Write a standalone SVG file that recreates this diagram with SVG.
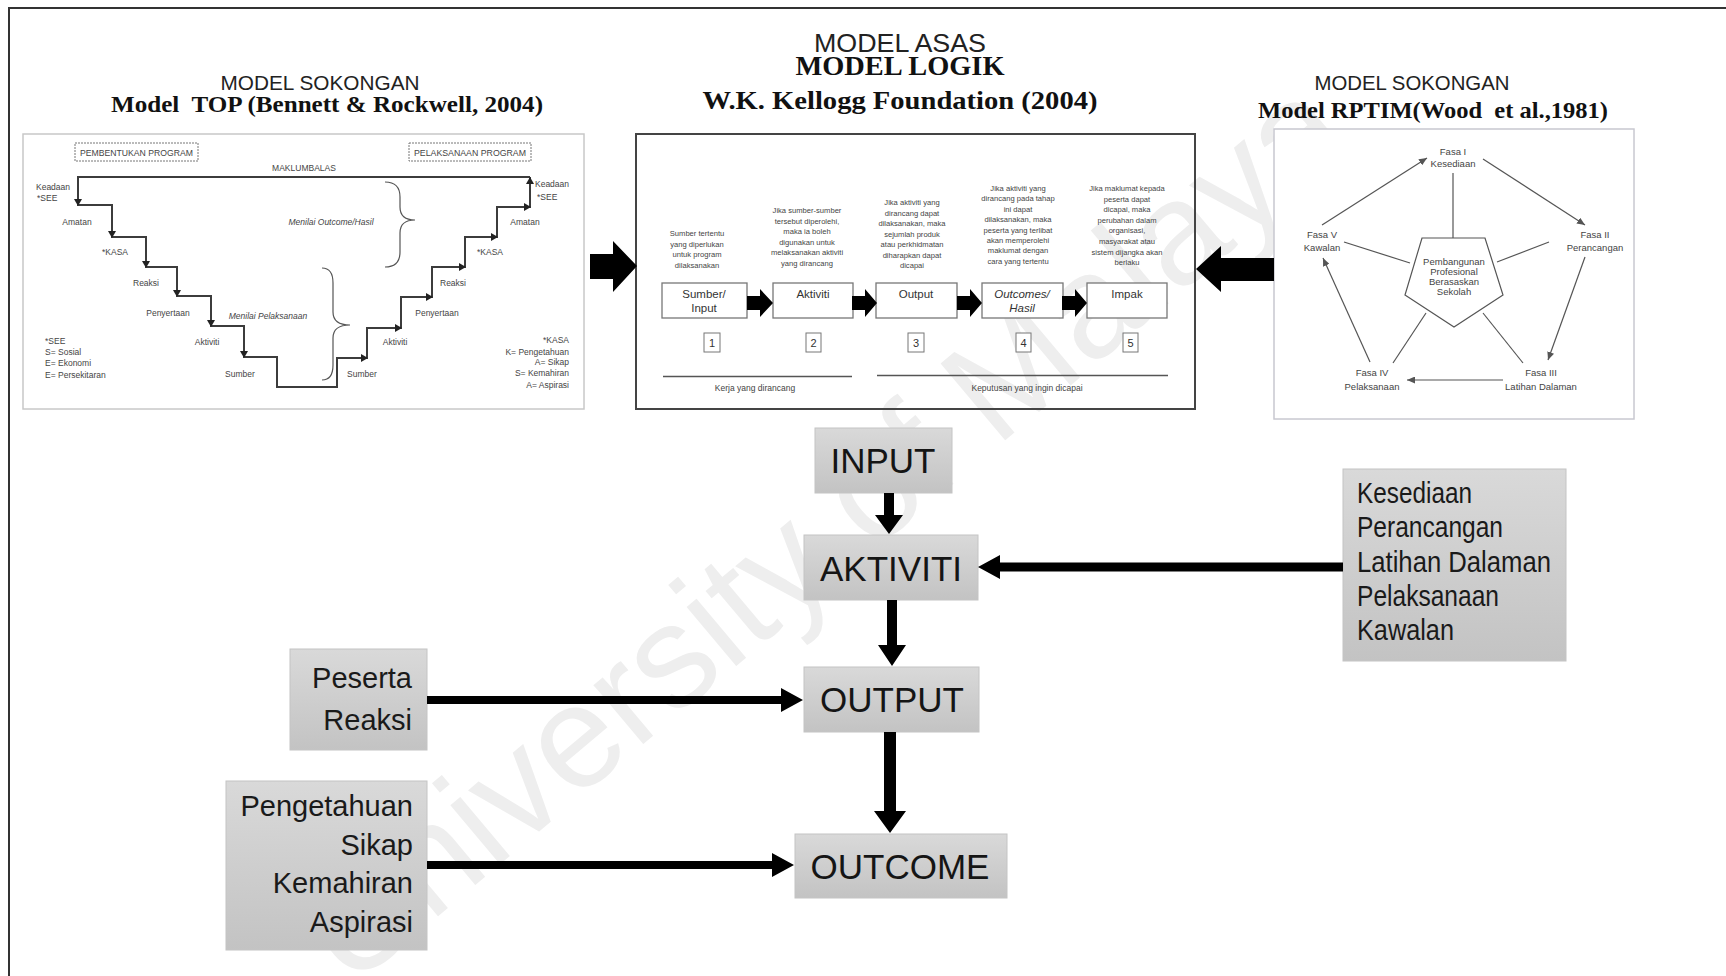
<svg xmlns="http://www.w3.org/2000/svg" width="1726" height="976" viewBox="0 0 1726 976">
<defs>
<style>
.sans{font-family:"Liberation Sans",Arial,sans-serif;}
.serifb{font-family:"Liberation Serif","Times New Roman",serif;font-weight:bold;fill:#111;}
.ttl{font-family:"Liberation Sans",Arial,sans-serif;fill:#222;}
.sm{font-family:"Liberation Sans",Arial,sans-serif;font-size:8.5px;fill:#444;}
.desc{font-family:"Liberation Sans",Arial,sans-serif;font-size:7.6px;fill:#444;text-anchor:middle;}
.fs{font-family:"Liberation Sans",Arial,sans-serif;font-size:9.5px;fill:#444;text-anchor:middle;}
.big{font-family:"Liberation Sans",Arial,sans-serif;font-size:35px;fill:#151515;text-anchor:middle;}
.side{font-family:"Liberation Sans",Arial,sans-serif;font-size:29px;fill:#1a1a1a;}
.gbox{fill:url(#gg);stroke:#c4c4c4;stroke-width:1;}
.stair{fill:none;stroke:#3c3c3c;stroke-width:2;}
.thin{fill:none;stroke:#555;stroke-width:1.2;}
.kbox{fill:#fff;stroke:#777;stroke-width:1.3;}
.blk{fill:#000;}
</style>
<linearGradient id="gg" x1="0" y1="0" x2="0" y2="1">
<stop offset="0" stop-color="#d9d9d9"/>
<stop offset="1" stop-color="#c3c3c3"/>
</linearGradient>
<marker id="sa" markerUnits="userSpaceOnUse" markerWidth="9" markerHeight="7" refX="8" refY="3.5" orient="auto">
<path d="M0,0 L8,3.5 L0,7 z" fill="#555"/>
</marker>
</defs>
<rect x="0" y="0" width="1726" height="976" fill="#fff"/>

<g id="watermark">
<text x="853" y="568" transform="rotate(-40 853 568)" class="sans" font-size="146" fill="#eeeeee" text-anchor="middle">University of Malaya</text>
</g>

<g id="frame">
<path d="M9,976 V8 H1726" fill="none" stroke="#333" stroke-width="2"/>
</g>

<g id="titles">
<text x="320" y="90" class="ttl" font-size="20" text-anchor="middle" textLength="199" lengthAdjust="spacingAndGlyphs">MODEL SOKONGAN</text>
<text x="327" y="112" class="serifb" font-size="24" text-anchor="middle" xml:space="preserve" textLength="432" lengthAdjust="spacingAndGlyphs">Model  TOP (Bennett &amp; Rockwell, 2004)</text>
<text x="900" y="52" class="ttl" font-size="26" text-anchor="middle" textLength="172" lengthAdjust="spacingAndGlyphs">MODEL ASAS</text>
<text x="900" y="75" class="serifb" font-size="27" text-anchor="middle" textLength="209" lengthAdjust="spacingAndGlyphs">MODEL LOGIK</text>
<text x="900" y="109" class="serifb" font-size="25" text-anchor="middle" textLength="395" lengthAdjust="spacingAndGlyphs">W.K. Kellogg Foundation (2004)</text>
<text x="1412" y="90" class="ttl" font-size="20" text-anchor="middle" textLength="195" lengthAdjust="spacingAndGlyphs">MODEL SOKONGAN</text>
<text x="1433" y="118" class="serifb" font-size="24" text-anchor="middle" xml:space="preserve" textLength="350" lengthAdjust="spacingAndGlyphs">Model RPTIM(Wood  et al.,1981)</text>
</g>

<g id="node-top-model">
<rect x="23" y="134" width="561" height="275" fill="#fff" stroke="#c8c8c8" stroke-width="1.5"/>
<rect x="75" y="143" width="123" height="18" fill="none" stroke="#777" stroke-width="1" stroke-dasharray="2,1"/>
<text x="136.5" y="155.5" class="sm" font-size="8" text-anchor="middle" textLength="113" lengthAdjust="spacingAndGlyphs">PEMBENTUKAN PROGRAM</text>
<rect x="409" y="143" width="122" height="18" fill="none" stroke="#777" stroke-width="1" stroke-dasharray="2,1"/>
<text x="470" y="155.5" class="sm" font-size="8" text-anchor="middle" textLength="112" lengthAdjust="spacingAndGlyphs">PELAKSANAAN PROGRAM</text>
<text x="304" y="171" class="sm" font-size="8" text-anchor="middle">MAKLUMBALAS</text>
<path class="stair" d="M530,177 H78 V205 H112 V237 H146 V267 H177 V296 H211 V326 H244 V357 H277 V387 H337 V358 H367 V328 H401 V297 H432 V267 H465 V237 H497 V207 H530 V177"/>
<g fill="#222">
<path d="M74,199 L82,199 L78,206 z"/>
<path d="M108,231 L116,231 L112,238 z"/>
<path d="M142,261 L150,261 L146,268 z"/>
<path d="M173,290 L181,290 L177,297 z"/>
<path d="M207,320 L215,320 L211,327 z"/>
<path d="M240,351 L248,351 L244,358 z"/>
<path d="M361,354 L361,362 L368,358 z"/>
<path d="M395,324 L395,332 L402,328 z"/>
<path d="M426,293 L426,301 L433,297 z"/>
<path d="M459,263 L459,271 L466,267 z"/>
<path d="M491,233 L491,241 L498,237 z"/>
<path d="M524,203 L524,211 L531,207 z"/>
<path d="M526,184 L534,184 L530,177 z"/>
</g>
<path class="thin" stroke="#444" stroke-width="1.5" d="M385,182 Q400,182 400,197 V207 Q400,220 415,220 Q400,220 400,233 V252 Q400,267 385,267"/>
<path class="thin" stroke="#444" stroke-width="1.5" d="M322,268 Q333,268 333,283 V312 Q333,325 350,325 Q333,325 333,338 V365 Q333,380 322,380"/>
<text x="36" y="190" class="sm">Keadaan</text>
<text x="37" y="201" class="sm">*SEE</text>
<text x="77" y="225" class="sm" text-anchor="middle">Amatan</text>
<text x="115" y="255" class="sm" text-anchor="middle">*KASA</text>
<text x="146" y="286" class="sm" text-anchor="middle">Reaksi</text>
<text x="168" y="316" class="sm" text-anchor="middle">Penyertaan</text>
<text x="207" y="345" class="sm" text-anchor="middle">Aktiviti</text>
<text x="240" y="377" class="sm" text-anchor="middle">Sumber</text>
<text x="268" y="319" class="sm" text-anchor="middle" font-style="italic">Menilai Pelaksanaan</text>
<text x="331" y="225" class="sm" text-anchor="middle" font-style="italic">Menilai Outcome/Hasil</text>
<text x="535" y="187" class="sm">Keadaan</text>
<text x="537" y="200" class="sm">*SEE</text>
<text x="525" y="225" class="sm" text-anchor="middle">Amatan</text>
<text x="490" y="255" class="sm" text-anchor="middle">*KASA</text>
<text x="453" y="286" class="sm" text-anchor="middle">Reaksi</text>
<text x="437" y="316" class="sm" text-anchor="middle">Penyertaan</text>
<text x="395" y="345" class="sm" text-anchor="middle">Aktiviti</text>
<text x="362" y="377" class="sm" text-anchor="middle">Sumber</text>
<text class="sm" font-size="7.5"><tspan x="45" y="344">*SEE</tspan><tspan x="45" y="355">S= Sosial</tspan><tspan x="45" y="366">E= Ekonomi</tspan><tspan x="45" y="378">E= Persekitaran</tspan></text>
<text class="sm" font-size="7.5" text-anchor="end"><tspan x="569" y="343">*KASA</tspan><tspan x="569" y="355">K= Pengetahuan</tspan><tspan x="569" y="365">A= Sikap</tspan><tspan x="569" y="376">S= Kemahiran</tspan><tspan x="569" y="388">A= Aspirasi</tspan></text>
</g>

<g id="node-logic-model">
<rect x="636" y="134" width="559" height="275" fill="none" stroke="#444" stroke-width="2"/>
<text class="desc"><tspan x="697" y="236">Sumber tertentu</tspan><tspan x="697" y="246.5">yang diperlukan</tspan><tspan x="697" y="257">untuk program</tspan><tspan x="697" y="267.5">dilaksanakan</tspan></text>
<text class="desc"><tspan x="807" y="213">Jika sumber-sumber</tspan><tspan x="807" y="223.6">tersebut diperolehi,</tspan><tspan x="807" y="234.2">maka ia boleh</tspan><tspan x="807" y="244.8">digunakan untuk</tspan><tspan x="807" y="255.4">melaksanakan aktiviti</tspan><tspan x="807" y="266">yang dirancang</tspan></text>
<text class="desc"><tspan x="912" y="205">Jika aktiviti yang</tspan><tspan x="912" y="215.5">dirancang dapat</tspan><tspan x="912" y="226">dilaksanakan, maka</tspan><tspan x="912" y="236.5">sejumlah produk</tspan><tspan x="912" y="247">atau perkhidmatan</tspan><tspan x="912" y="257.5">diharapkan dapat</tspan><tspan x="912" y="268">dicapai</tspan></text>
<text class="desc"><tspan x="1018" y="191">Jika aktiviti yang</tspan><tspan x="1018" y="201.4">dirancang pada tahap</tspan><tspan x="1018" y="211.8">ini dapat</tspan><tspan x="1018" y="222.2">dilaksanakan, maka</tspan><tspan x="1018" y="232.6">peserta yang terlibat</tspan><tspan x="1018" y="243">akan memperolehi</tspan><tspan x="1018" y="253.4">maklumat dengan</tspan><tspan x="1018" y="263.8">cara yang tertentu</tspan></text>
<text class="desc"><tspan x="1127" y="191">Jika maklumat kepada</tspan><tspan x="1127" y="201.6">peserta dapat</tspan><tspan x="1127" y="212.2">dicapai, maka</tspan><tspan x="1127" y="222.8">perubahan dalam</tspan><tspan x="1127" y="233.4">organisasi,</tspan><tspan x="1127" y="244">masyarakat atau</tspan><tspan x="1127" y="254.6">sistem dijangka akan</tspan><tspan x="1127" y="265.2">berlaku</tspan></text>
<rect class="kbox" x="662" y="283" width="85" height="35"/>
<text class="sans" font-size="11.5" fill="#333" text-anchor="middle"><tspan x="704" y="298">Sumber/</tspan><tspan x="704" y="312">Input</tspan></text>
<rect class="kbox" x="773" y="283" width="80" height="35"/>
<text x="813" y="298" class="sans" font-size="11.5" fill="#333" text-anchor="middle">Aktiviti</text>
<rect class="kbox" x="876" y="283" width="81" height="35"/>
<text x="916" y="298" class="sans" font-size="11.5" fill="#333" text-anchor="middle">Output</text>
<rect class="kbox" x="982" y="283" width="81" height="35"/>
<text class="sans" font-size="11.5" fill="#333" text-anchor="middle" font-style="italic"><tspan x="1022" y="298">Outcomes/</tspan><tspan x="1022" y="312">Hasil</tspan></text>
<rect class="kbox" x="1087" y="283" width="80" height="35"/>
<text x="1127" y="298" class="sans" font-size="11.5" fill="#333" text-anchor="middle">Impak</text>
<g class="blk">
<path d="M747,296 H760 V289 L773,303 L760,317 V310 H747 z"/>
<path d="M852,296 H865 V289 L877,303 L865,317 V310 H852 z"/>
<path d="M957,296 H970 V289 L982,303 L970,317 V310 H957 z"/>
<path d="M1062,296 H1075 V289 L1087,303 L1075,317 V310 H1062 z"/>
</g>
<g fill="#fff" stroke="#777" stroke-width="1">
<rect x="704" y="333" width="16" height="19"/>
<rect x="806" y="333" width="15" height="19"/>
<rect x="908" y="333" width="16" height="19"/>
<rect x="1016" y="333" width="15" height="19"/>
<rect x="1123" y="333" width="15" height="19"/>
</g>
<g class="sans" font-size="11" fill="#333" text-anchor="middle">
<text x="712" y="347">1</text>
<text x="813.5" y="347">2</text>
<text x="916" y="347">3</text>
<text x="1023.5" y="347">4</text>
<text x="1130.5" y="347">5</text>
</g>
<path d="M663,376.5 H852 M877,375.5 H1168" stroke="#555" stroke-width="1.3"/>
<text x="755" y="391" class="sans" font-size="8.5" fill="#444" text-anchor="middle">Kerja yang dirancang</text>
<text x="1027" y="391" class="sans" font-size="8.5" fill="#444" text-anchor="middle">Keputusan yang ingin dicapai</text>
</g>

<g id="node-rptim">
<rect x="1274" y="129" width="360" height="290" fill="#fff" stroke="#c8c8d0" stroke-width="1.5"/>
<path d="M1422,238 L1485,238 L1503,295 L1454,327 L1405,295 z" fill="#fff" stroke="#555" stroke-width="1.2"/>
<text class="fs" font-size="9.5"><tspan x="1454" y="265">Pembangunan</tspan><tspan x="1454" y="275">Profesional</tspan><tspan x="1454" y="285">Berasaskan</tspan><tspan x="1454" y="295">Sekolah</tspan></text>
<text class="fs"><tspan x="1453" y="155">Fasa I</tspan><tspan x="1453" y="167">Kesediaan</tspan></text>
<text class="fs"><tspan x="1595" y="238">Fasa II</tspan><tspan x="1595" y="251">Perancangan</tspan></text>
<text class="fs"><tspan x="1541" y="376">Fasa III</tspan><tspan x="1541" y="390">Latihan Dalaman</tspan></text>
<text class="fs"><tspan x="1372" y="376">Fasa IV</tspan><tspan x="1372" y="390">Pelaksanaan</tspan></text>
<text class="fs"><tspan x="1322" y="238">Fasa V</tspan><tspan x="1322" y="251">Kawalan</tspan></text>
<g class="thin" stroke-width="1.1">
<path d="M1453,173 V238"/>
<path d="M1344,242 L1410,263"/>
<path d="M1549,242 L1497,262"/>
<path d="M1426,313 L1393,363"/>
<path d="M1483,313 L1523,363"/>
<path d="M1322,225 L1427,158" marker-end="url(#sa)"/>
<path d="M1483,159 L1585,225" marker-end="url(#sa)"/>
<path d="M1585,257 L1548,360" marker-end="url(#sa)"/>
<path d="M1503,380 L1407,380" marker-end="url(#sa)"/>
<path d="M1370,362 L1323,258" marker-end="url(#sa)"/>
</g>
</g>

<g id="node-input">
<rect class="gbox" x="815" y="428" width="137" height="65"/>
<text x="883" y="473" class="big">INPUT</text>
</g>
<g id="node-aktiviti">
<rect class="gbox" x="804" y="535" width="174" height="65"/>
<text x="891" y="581" class="big">AKTIVITI</text>
</g>
<g id="node-output">
<rect class="gbox" x="804" y="667" width="175" height="65"/>
<text x="892" y="712" class="big">OUTPUT</text>
</g>
<g id="node-outcome">
<rect class="gbox" x="795" y="834" width="212" height="64"/>
<text x="900" y="879" class="big">OUTCOME</text>
</g>
<g id="node-peserta">
<rect class="gbox" x="290" y="649" width="137" height="101"/>
<text class="side" text-anchor="end"><tspan x="412" y="688">Peserta</tspan><tspan x="412" y="730">Reaksi</tspan></text>
</g>
<g id="node-kasa">
<rect class="gbox" x="226" y="781" width="201" height="169"/>
<text class="side" text-anchor="end"><tspan x="413" y="816">Pengetahuan</tspan><tspan x="413" y="855">Sikap</tspan><tspan x="413" y="893">Kemahiran</tspan><tspan x="413" y="932">Aspirasi</tspan></text>
</g>
<g id="node-fasa">
<rect class="gbox" x="1343" y="469" width="223" height="192"/>
<text class="side" font-size="24">
<tspan x="1357" y="503" textLength="115" lengthAdjust="spacingAndGlyphs">Kesediaan</tspan>
<tspan x="1357" y="537" textLength="146" lengthAdjust="spacingAndGlyphs">Perancangan</tspan>
<tspan x="1357" y="572" textLength="194" lengthAdjust="spacingAndGlyphs">Latihan Dalaman</tspan>
<tspan x="1357" y="606" textLength="142" lengthAdjust="spacingAndGlyphs">Pelaksanaan</tspan>
<tspan x="1357" y="640" textLength="97" lengthAdjust="spacingAndGlyphs">Kawalan</tspan>
</text>
</g>

<g id="connectors" class="blk">
<path d="M590,254 H613 V241 L637,266 L613,292 V279 H590 z"/>
<path d="M1274,258 H1221 V246 L1196,269 L1221,292 V281 H1274 z"/>
<path d="M884,493 H894 V515 H903 L889,534 L875,515 H884 z"/>
<path d="M887,600 H897 V645 H906 L892,666 L878,645 H887 z"/>
<path d="M884,732 H896 V811 H906 L890,833 L874,811 H884 z"/>
<path d="M427,696 H781 V688 L803,700 L781,712 V704 H427 z"/>
<path d="M427,861 H772 V853 L794,865 L772,877 V869 H427 z"/>
<path d="M1343,562.5 H1000 V555 L978,567 L1000,579 V571.5 H1343 z"/>
</g>
</svg>
